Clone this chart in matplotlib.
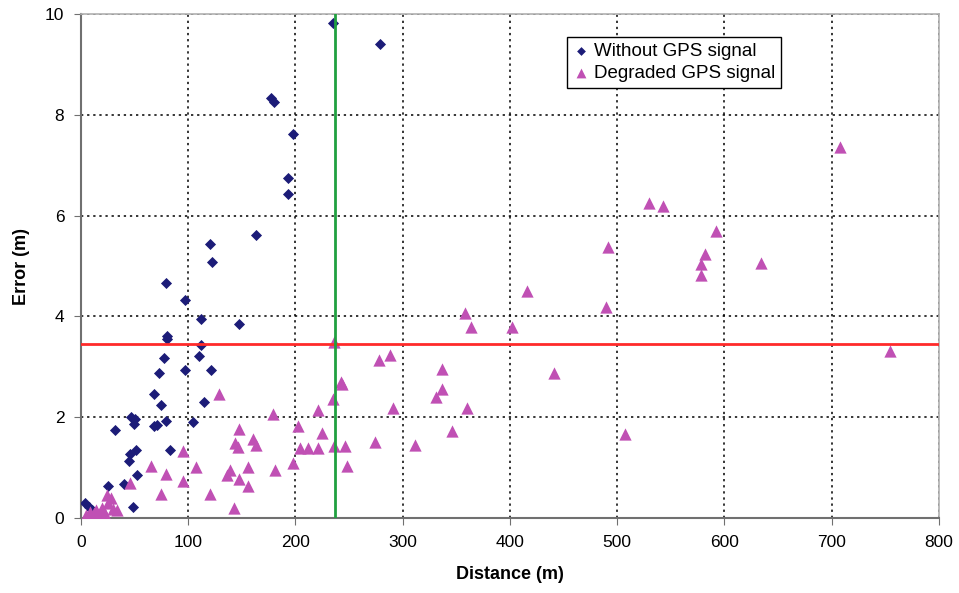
import matplotlib.pyplot as plt
import numpy as np

plt.rcParams['font.family'] = ['Liberation Sans', 'DejaVu Sans']

# without GPS signal (diamonds)
no_gps_dist = [235, 279, 177, 180, 198, 193, 193, 163, 120, 122, 79, 97, 112, 147,
               80, 80, 112, 77, 110, 73, 97, 121, 68, 75, 115, 47, 50, 49, 68, 71,
               79, 104, 32, 46, 51, 45, 83, 52, 40, 25, 48, 4, 7, 10]
no_gps_err = [9.83, 9.40, 8.33, 8.26, 7.62, 6.74, 6.44, 5.61, 5.43, 5.09, 4.67, 4.33, 3.95, 3.86,
              3.61, 3.55, 3.43, 3.17, 3.21, 2.87, 2.94, 2.94, 2.46, 2.25, 2.30, 2.01, 1.96, 1.87, 1.83, 1.85,
              1.93, 1.90, 1.75, 1.28, 1.34, 1.13, 1.35, 0.85, 0.68, 0.63, 0.21, 0.30, 0.22, 0.15]

# degraded GPS signal (triangles)
deg_dist = [5, 8, 10, 12, 14, 16, 18, 20, 22, 25, 28, 30, 34, 24, 46, 65, 79, 75,
            129, 179, 147, 144, 146, 160, 163, 95, 107, 95, 139, 136, 156, 147, 156, 181, 198, 120, 143, 202,
            236, 278, 288, 242, 243, 235, 221, 291, 225, 204, 212, 221, 236, 246, 274, 248,
            337, 337, 331, 360, 441, 346, 311,
            530, 543, 491, 416, 490, 358, 364, 402, 507, 708, 592, 582, 578, 578, 634, 754]
deg_err = [0.05, 0.12, 0.02, 0.10, 0.15, 0.05, 0.10, 0.20, 0.08, 0.30, 0.40, 0.18, 0.15, 0.46, 0.69, 1.03, 0.88, 0.47,
           2.46, 2.06, 1.76, 1.49, 1.41, 1.56, 1.45, 1.32, 1.02, 0.74, 0.95, 0.85, 1.01, 0.77, 0.63, 0.95, 1.10, 0.48, 0.19, 1.82,
           3.50, 3.13, 3.24, 2.69, 2.65, 2.36, 2.14, 2.19, 1.68, 1.38, 1.38, 1.38, 1.43, 1.43, 1.51, 1.03,
           2.96, 2.56, 2.40, 2.19, 2.88, 1.72, 1.44,
           6.25, 6.20, 5.38, 4.51, 4.19, 4.06, 3.80, 3.80, 1.66, 7.37, 5.70, 5.24, 5.05, 4.82, 5.07, 3.32]

err_limit = 3.45
dist_limit = 237

fig = plt.figure(figsize=(9.59, 5.93), dpi=100)
ax = fig.add_axes([0.0845, 0.1265, 0.8945, 0.8495])

ax.scatter(no_gps_dist, no_gps_err, marker='D', s=32, color='#1c1c78', linewidths=0,
           label='Without GPS signal', zorder=3)
ax.scatter(deg_dist, deg_err, marker='^', s=78, color='#c050b4', linewidths=0,
           label='Degraded GPS signal', zorder=3)

ax.axhline(err_limit, color='#ff2a2a', lw=2, zorder=4)
ax.axvline(dist_limit, color='#20a040', lw=2, zorder=4)

ax.set_xlim(0, 800)
ax.set_ylim(0, 10)
ax.set_xticks(np.arange(0, 801, 100))
ax.set_yticks(np.arange(0, 11, 2))
ax.grid(True, color='black', linestyle=(0, (1.5, 2.5)), linewidth=1.1)
ax.set_axisbelow(True)

for s in ['left', 'bottom']:
    ax.spines[s].set_color('#707070')
    ax.spines[s].set_linewidth(1.5)
for s in ['top', 'right']:
    ax.spines[s].set_color('#b0b0b0')
    ax.spines[s].set_linewidth(1.2)

ax.tick_params(direction='out', length=5, color='#707070', labelsize=12.5, pad=7)
ax.set_xlabel('Distance (m)', fontsize=13, fontweight='bold', labelpad=12)
ax.set_ylabel('Error (m)', fontsize=13, fontweight='bold', labelpad=11)

leg = ax.legend(loc='upper left', bbox_to_anchor=(0.567, 0.955), fontsize=13.5,
                frameon=True, fancybox=False, edgecolor='black', framealpha=1,
                handlelength=0.8, handletextpad=0.3, borderpad=0.3, labelspacing=0.3,
                borderaxespad=0)
leg.get_frame().set_linewidth(1)
for h, sz in zip(leg.legend_handles, [20, 50]):
    h.set_sizes([sz])

fig.savefig('out.png', dpi=100)
